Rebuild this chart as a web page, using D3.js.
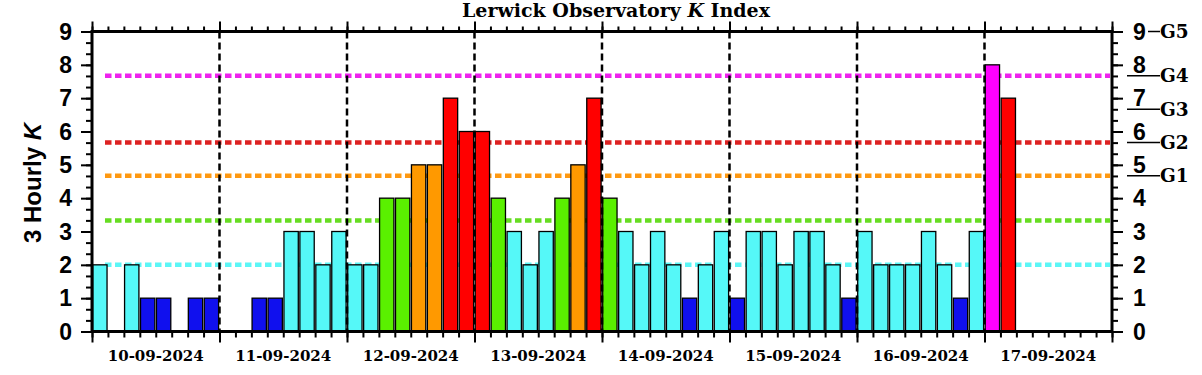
<!DOCTYPE html>
<html>
<head>
<meta charset="utf-8">
<script src="https://cdn.jsdelivr.net/npm/d3@7"></script>
<style>
  body { margin: 0; background: #fff; }
  svg { display: block; }
</style>
</head>
<body>
<div id="chart"></div>
<script>
// days shown and the 3 hourly K values (8 per day, last day partial)
const days = ['10-09-2024', '11-09-2024', '12-09-2024', '13-09-2024',
  '14-09-2024', '15-09-2024', '16-09-2024', '17-09-2024']
const kIndex = [
  2, 0, 2, 1, 1, 0, 1, 1,
  0, 0, 1, 1, 3, 3, 2, 3,
  2, 2, 4, 4, 5, 5, 7, 6,
  6, 4, 3, 2, 3, 4, 5, 7,
  4, 3, 2, 3, 2, 1, 2, 3,
  1, 3, 3, 2, 3, 3, 2, 1,
  3, 2, 2, 2, 3, 2, 1, 3,
  8, 7
]
const yTicks = [0, 1, 2, 3, 4, 5, 6, 7, 8, 9]
// dotted guide lines
const thresholds = [2, 3.33, 4.67, 5.67, 7.67]
const thresholdColors = ['#5cf6f6', '#66dd22', '#ff9911', '#dd2222', '#ee22ee']
// storm levels on the right
const gLevels = [4.67, 5.67, 6.67, 7.67, 9]
const gLabels = ['G1', 'G2', 'G3', 'G4', 'G5']
// bar colour by K value
const kColors = ['#1010ee', '#1010ee', '#55f8f8', '#55f8f8', '#5af000',
  '#ff9900', '#ff0000', '#ff0000', '#ff00ff', '#ff00ff']

const w = 1202, h = 375
const margin = {left: 92, right: 90, top: 31.5, bottom: 43.5}
const sans = '"Liberation Sans", Arial, sans-serif'
const serif = '"DejaVu Serif", serif'

const svg = d3.select('#chart').append('svg').attr('width', w).attr('height', h)

const t0 = new Date(Date.UTC(2024, 8, 10))
const t1 = new Date(Date.UTC(2024, 8, 18))
const x = d3.scaleUtc().domain([t0, t1]).range([margin.left, w - margin.right])
const y = d3.scaleLinear().domain([0, 9]).range([h - margin.bottom, margin.top])
const slotTime = i => d3.utcHour.offset(t0, i * 3)

const x0 = x.range()[0], x1 = x.range()[1]
const yb = y(0), yt = y(9)

// guide lines (under the bars)
svg.append('g').selectAll('line').data(thresholds).enter().append('line')
  .attr('x1', x0 + 13).attr('x2', x1 - 2)
  .attr('y1', d => y(d)).attr('y2', d => y(d))
  .attr('stroke', (d, i) => thresholdColors[i])
  .attr('stroke-width', 4.5)
  .attr('stroke-dasharray', '6.5,3.5')

// bars, zero values left empty
const barG = svg.append('g')
kIndex.forEach((d, i) => {
  if (d <= 0) return
  barG.append('rect')
    .attr('x', x(slotTime(i)) + 0.7)
    .attr('width', x(slotTime(i + 1)) - x(slotTime(i)) - 1.6)
    .attr('y', y(d))
    .attr('height', yb - y(d))
    .attr('fill', kColors[d])
    .attr('stroke', '#000')
    .attr('stroke-width', 1.3)
})

// day separators
const dayBounds = d3.utcDay.range(d3.utcDay.offset(t0, 1), t1)
svg.append('g').selectAll('line').data(dayBounds).enter().append('line')
  .attr('x1', d => x(d)).attr('x2', d => x(d))
  .attr('y1', yt).attr('y2', yb)
  .attr('stroke', '#000').attr('stroke-width', 2.5)
  .attr('stroke-dasharray', '7,4')

// axes
const hours = d3.utcHour.every(3).range(t0, d3.utcHour.offset(t1, 1))
const dayTicks = d3.utcDay.range(t0, d3.utcHour.offset(t1, 1))
const minorY = d3.range(0, 9.01, 1 / 3)
const styleAxis = g => {
  g.select('.domain').remove()
  g.selectAll('line').attr('stroke', '#000').attr('stroke-width', 2)
  g.selectAll('text').remove()
}
svg.append('g').attr('transform', `translate(0,${yb})`)
  .call(d3.axisBottom(x).tickValues(hours).tickSize(6)).call(styleAxis)
svg.append('g').attr('transform', `translate(0,${yb})`)
  .call(d3.axisBottom(x).tickValues(dayTicks).tickSize(11)).call(styleAxis)
svg.append('g').attr('transform', `translate(0,${yt})`)
  .call(d3.axisTop(x).tickValues(hours).tickSize(5)).call(styleAxis)
svg.append('g').attr('transform', `translate(0,${yt})`)
  .call(d3.axisTop(x).tickValues(dayTicks).tickSize(10)).call(styleAxis)
svg.append('g').attr('transform', `translate(${x0},0)`)
  .call(d3.axisLeft(y).tickValues(minorY).tickSize(6)).call(styleAxis)
svg.append('g').attr('transform', `translate(${x0},0)`)
  .call(d3.axisLeft(y).tickValues(yTicks).tickSize(11)).call(styleAxis)
svg.append('g').attr('transform', `translate(${x1},0)`)
  .call(d3.axisRight(y).tickValues(minorY).tickSize(6)).call(styleAxis)
svg.append('g').attr('transform', `translate(${x1},0)`)
  .call(d3.axisRight(y).tickValues(yTicks).tickSize(11)).call(styleAxis)

// frame
svg.append('rect').attr('x', x0).attr('y', yt)
  .attr('width', x1 - x0).attr('height', yb - yt)
  .attr('fill', 'none').attr('stroke', '#000').attr('stroke-width', 3)

// y tick labels
svg.append('g').selectAll('text').data(yTicks).enter().append('text')
  .attr('x', 72).attr('y', d => y(d)).attr('dy', '0.36em')
  .attr('text-anchor', 'end')
  .style('font', `bold 23px ${sans}`).text(d => d)
svg.append('g').selectAll('text').data(yTicks).enter().append('text')
  .attr('x', 1133).attr('y', d => y(d)).attr('dy', '0.36em')
  .style('font', `bold 23px ${sans}`).text(d => d)

// storm levels
const gG = svg.append('g')
gLevels.forEach((k, i) => {
  gG.append('line')
    .attr('x1', k === 9 ? 1148 : 1127).attr('x2', 1160)
    .attr('y1', y(k)).attr('y2', y(k))
    .attr('stroke', '#000').attr('stroke-width', 1.5)
  gG.append('text').attr('x', 1160).attr('y', y(k)).attr('dy', '0.36em')
    .style('font', `bold 18.5px ${serif}`).text(gLabels[i])
})

// day labels
svg.append('g').selectAll('text').data(days).enter().append('text')
  .attr('x', (d, i) => x(d3.utcHour.offset(d3.utcDay.offset(t0, i), 12)))
  .attr('y', 361).attr('text-anchor', 'middle')
  .style('font', `bold 15px ${serif}`).text(d => d)

// title
const title = svg.append('text').attr('x', 616).attr('y', 17)
  .attr('text-anchor', 'middle').style('font', `bold 19px ${serif}`)
title.append('tspan').text('Lerwick Observatory ')
title.append('tspan').style('font-style', 'italic').text('K')
title.append('tspan').text(' Index')

// y axis label
const yLabel = svg.append('text')
  .attr('transform', `translate(41,183) rotate(-90)`)
  .attr('text-anchor', 'middle').style('font', `bold 24px ${sans}`)
yLabel.append('tspan').text('3 Hourly ')
yLabel.append('tspan').style('font-style', 'italic').text('K')
</script>
</body>
</html>
